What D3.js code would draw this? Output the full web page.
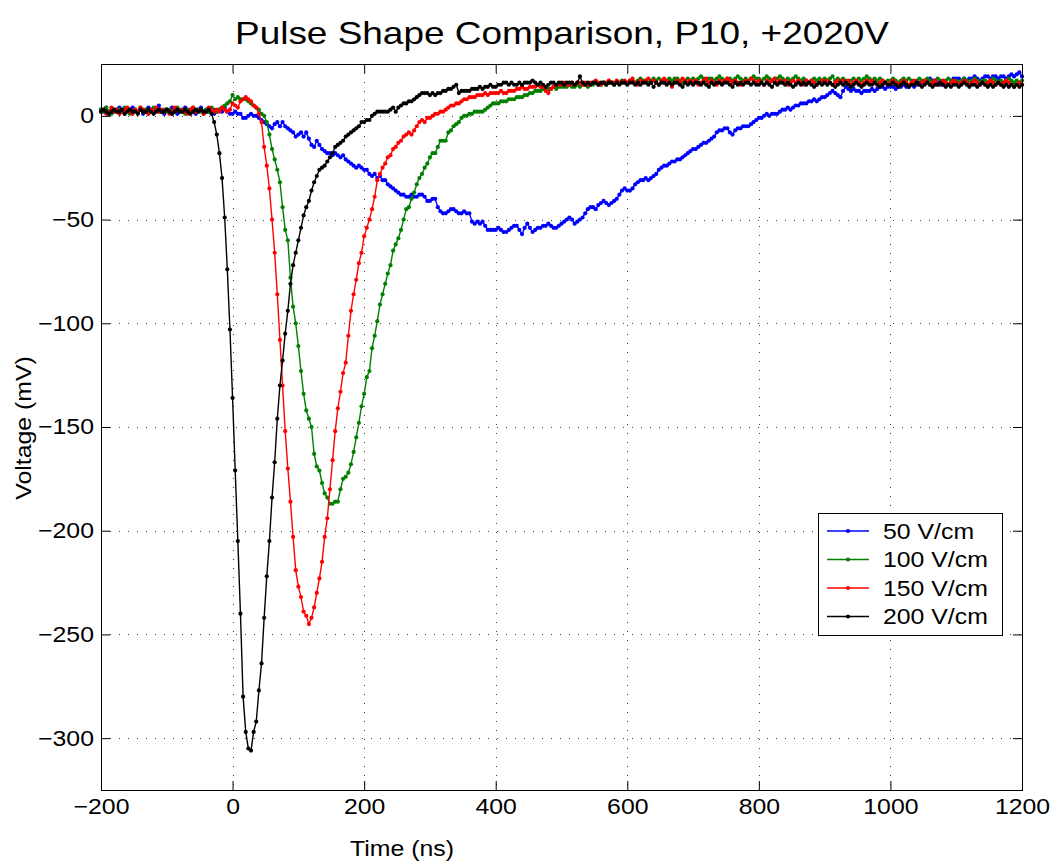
<!DOCTYPE html>
<html><head><meta charset="utf-8">
<script src="https://cdn.jsdelivr.net/npm/d3@7"></script>
<style>
body{margin:0;background:#fff}
text{font-family:"Liberation Sans",Arial,Helvetica,sans-serif;fill:#000}
</style>
</head><body>
<svg id="chart" width="1052" height="861"></svg>
<script>
// ---- data (mV), sampled every 4 ns starting at -200 ns ----
const sampleStart = -200;
const sampleStep = 4;

const v50 = [
 3,2,4,1,3, 2,3,4,2,1, 3,2,4,3,2, 3,1,2,4,3, 2,3,5,2,1,
 3,2,4,3,1, 2,3,4,2,3, 2,1,3,4,2, 3,2,3,1,2, 3,2,4,2,1,
 1,2,1,1,-1, -1,0,1,0,0, -1,-2,-3,-4,-5, -6,-4,-3,-5,-3, -5,-6,-7,-8,-10,
 -9,-8,-10,-8,-11, -14,-15,-12,-14,-16, -17,-18,-18,-19,-18, -19,-20,-19,-21,-22, -23,-24,-25,-24,-25,
 -26,-26,-28,-29,-28, -30,-29,-31,-31,-33, -34,-35,-36,-37,-38, -38,-39,-39,-38,-39, -39,-38,-38,-39,-41,
 -41,-40,-40,-44,-46, -47,-47,-46,-45,-45, -46,-47,-47,-46,-47, -47,-51,-52,-51,-52, -51,-53,-55,-55,-55,
 -55,-54,-55,-56,-56, -55,-54,-53,-53,-55, -57,-54,-52,-54,-56, -55,-54,-54,-53,-53, -52,-53,-54,-54,-53,
 -52,-51,-50,-49,-50, -52,-51,-50,-49,-47, -45,-44,-44,-45,-43, -42,-41,-42,-43,-42, -41,-40,-38,-36,-35,
 -36,-36,-35,-33,-32, -31,-31,-30,-31,-30, -29,-28,-26,-25,-24, -24,-23,-22,-22,-21, -21,-20,-19,-18,-17,
 -16,-16,-15,-14,-13, -13,-12,-11,-10,-8, -7,-7,-6,-6,-8, -9,-7,-6,-6,-5, -5,-5,-4,-3,-2,
 -1,-1,0,1,0, 1,1,1,2,3, 3,4,3,4,5, 5,6,6,6,7, 7,8,7,8,9,
 9,10,11,12,11, 10,9,12,14,13, 12,13,12,12,11, 12,12,12,13,12, 13,14,14,13,14,
 14,14,13,14,14, 15,14,14,15,14, 15,16,15,16,17, 18,17,17,16,15, 15,16,15,17,18,
 18,18,17,18,17, 18,18,19,18,17, 18,19,19,18,19, 19,18,19,19,18, 19,20,19,20,21,
 19
];

const v100 = [
 3,2,4,2,1, 3,2,3,2,4, 3,1,2,3,2, 4,2,3,1,2, 4,3,2,2,3,
 2,3,1,2,4, 3,2,1,3,2, 4,2,3,2,1, 3,2,4,3,2, 3,4,5,6,7,
 10,8,9,8,8, 8,7,6,5,4, 3,1,0,-3,-9, -16,-21,-26,-32,-44, -55,-60,-78,-92,-100,
 -111,-123,-134,-142,-146, -150,-163,-169,-171,-177, -182,-184,-187,-187,-186, -186,-180,-175,-174,-172, -168,-162,-155,-148,-140,
 -134,-126,-123,-112,-106, -99,-91,-86,-81,-76, -72,-65,-62,-59,-55, -50,-45,-44,-40,-37, -33,-30,-28,-25,-23,
 -20,-18,-18,-15,-12, -12,-12,-8,-7,-5, -4,-3,-1,0,0, 1,1,2,2,2, 2,3,4,5,6,
 6,6,7,7,7, 8,8,8,9,9, 9,10,10,11,11, 12,12,12,13,13, 13,13,14,13,14,
 14,14,14,15,14, 14,15,14,15,15, 14,15,15,16,15, 15,16,15,16,16, 15,16,16,17,16,
 16,17,17,16,17, 18,17,17,16,17, 18,17,18,17,16, 17,18,17,18,18, 17,16,17,18,17,
 18,17,18,19,18, 17,18,18,17,18, 19,18,17,18,18, 17,18,19,18,17, 18,17,18,19,18,
 18,17,18,19,18, 17,18,18,19,18, 17,18,17,18,19, 18,17,18,17,16, 17,18,17,18,17,
 18,17,18,19,17, 18,17,18,17,16, 17,18,17,18,17, 18,19,18,17,18, 17,18,17,16,17,
 17,18,17,16,17, 18,17,18,17,16, 17,18,17,17,18, 17,16,17,18,17, 16,17,18,17,16,
 17,16,17,18,17, 16,17,18,17,16, 17,17,16,17,18, 17,16,17,16,17, 18,17,16,17,16,
 17
];

const v150 = [
 2,3,1,2,4, 2,3,1,2,3, 4,2,1,3,2, 4,3,2,1,3, 2,4,2,3,2,
 3,1,2,4,3, 2,3,2,1,3, 4,2,2,3,1, 2,4,3,2,3, 2,4,3,2,3,
 6,5,4,7,8, 9,8,7,5,4, 1,-3,-15,-24,-35, -50,-66,-86,-108,-130, -152,-170,-186,-203,-219,
 -227,-232,-239,-241,-245, -242,-237,-230,-223,-215, -203,-194,-180,-166,-152, -141,-133,-124,-119,-106, -94,-86,-79,-71,-66,
 -58,-54,-50,-45,-39, -31,-28,-25,-23,-20, -19,-16,-15,-13,-12, -10,-9,-8,-9,-7, -5,-3,-2,-3,-1,
 -1,0,1,1,2, 2,3,4,5,5, 6,6,7,8,8, 9,9,9,10,10, 10,11,10,11,11,
 11,11,12,11,11, 12,12,12,13,13, 14,13,13,14,14, 14,15,14,14,12, 11,13,14,15,15,
 15,16,15,15,16, 15,16,16,15,16, 15,16,16,17,16, 15,16,16,17,16, 16,17,16,16,17,
 16,17,18,16,15, 17,16,17,18,16, 17,16,15,17,18, 17,16,14,16,17, 16,18,17,16,17,
 16,17,15,16,17, 18,16,17,16,15, 17,16,17,18,17, 16,17,16,15,16, 17,16,18,17,16,
 17,16,15,17,16, 17,18,16,17,16, 17,15,16,17,16, 17,16,15,17,16, 17,16,15,16,17,
 16,17,16,15,16, 17,16,17,16,17, 15,16,17,16,15, 16,17,16,17,16, 15,16,17,16,15,
 16,17,16,15,16, 17,16,15,16,17, 16,15,16,17,16, 15,16,17,15,16, 17,16,15,16,17,
 16,15,16,17,16, 15,16,17,16,15, 16,15,16,17,16, 15,16,15,16,17, 16,15,14,15,16,
 15
];

const v200 = [
 2,3,2,1,2, 3,2,2,3,1, 2,3,2,2,1, 3,2,2,3,2, 1,2,3,2,2,
 3,2,1,2,3, 2,2,3,2,1, 2,3,2,3,2, 2,3,1,-3,-9, -18,-30,-49,-74,-103,
 -136,-171,-205,-240,-280, -297,-305,-306,-297,-292, -277,-264,-242,-222,-205, -184,-167,-146,-130,-118, -105,-94,-81,-72,-66,
 -60,-54,-48,-44,-41, -36,-32,-29,-26,-25, -24,-22,-20,-18,-15, -14,-13,-12,-10,-9, -8,-7,-6,-5,-3,
 -3,-2,-2,0,1, 2,2,2,2,2, 3,4,2,4,5, 6,6,7,7,8, 9,10,11,11,11,
 10,11,10,11,11, 12,12,13,13,14, 15,11,12,12,12, 12,13,13,13,14, 13,14,14,15,14,
 14,15,15,16,16, 15,16,15,15,16, 15,16,16,16,17, 16,15,16,15,14, 15,16,16,15,16,
 16,15,16,16,16, 15,16,19,16,15, 16,15,16,16,15, 16,16,15,16,16, 15,16,15,16,16,
 15,16,16,15,16, 15,16,16,15,16, 14,16,15,16,16, 15,16,15,16,16, 15,14,16,15,16,
 15,16,16,15,16, 15,14,16,15,16, 16,15,16,16,15, 14,16,15,16,15, 16,16,15,16,15,
 15,16,15,16,15, 14,16,15,16,16, 15,16,15,14,15, 16,15,16,15,16, 15,14,15,16,15,
 16,15,16,15,14, 15,16,15,16,15, 14,15,16,15,14, 15,16,15,15,16, 15,14,15,16,15,
 15,16,15,14,15, 16,15,14,15,15, 16,15,14,15,16, 15,14,15,15,16, 15,14,15,14,15,
 15,14,15,16,15, 14,15,15,14,15, 16,15,14,15,14, 15,16,15,14,15, 14,15,14,15,14,
 15
];

const seriesNames = ["50 V/cm", "100 V/cm", "150 V/cm", "200 V/cm"];
const seriesColors = ["#0000ff", "#008000", "#ff0000", "#000000"];
const seriesValues = [v50, v100, v150, v200];

const xTicks = [-200, 0, 200, 400, 600, 800, 1000, 1200];
const yTicks = [-300, -250, -200, -150, -100, -50, 0];
const xDomain = [-200, 1200];
const yDomain = [-325, 25];
const titleText = "Pulse Shape Comparison, P10, +2020V";
const xLabel = "Time (ns)";
const yLabel = "Voltage (mV)";

// ---- drawing ----
const svg = d3.select("#chart");
const L = 101, R = 1022, T = 64, B = 790;
const x = d3.scaleLinear().domain(xDomain).range([L, R]);
const y = d3.scaleLinear().domain(yDomain).range([B, T]);
const fmt = d3.format("");
const S = 1.155;          // horizontal stretch of the reference's lettering
const fontSize = 21.5;

svg.append("rect").attr("width", 1052).attr("height", 861).attr("fill", "#fff");

// grid
const grid = svg.append("g").attr("stroke", "#000").attr("stroke-width", 1)
  .attr("stroke-dasharray", "1,8").attr("opacity", 0.75);
xTicks.slice(1, -1).forEach(t => {
  grid.append("line").attr("x1", Math.round(x(t)) + 0.5).attr("x2", Math.round(x(t)) + 0.5)
    .attr("y1", T).attr("y2", B);
});
yTicks.forEach(t => {
  grid.append("line").attr("y1", Math.round(y(t)) + 0.5).attr("y2", Math.round(y(t)) + 0.5)
    .attr("x1", L).attr("x2", R);
});

// data
const plot = svg.append("g");
seriesValues.forEach((vals, si) => {
  const pts = vals.map((v, i) => [sampleStart + i * sampleStep, v]);
  const line = d3.line().x(d => x(d[0])).y(d => y(d[1]));
  plot.append("path").datum(pts).attr("d", line).attr("fill", "none")
    .attr("stroke", seriesColors[si]).attr("stroke-width", 1.4);
  plot.append("g").selectAll("circle").data(pts).join("circle")
    .attr("cx", d => x(d[0])).attr("cy", d => y(d[1])).attr("r", 2.1)
    .attr("fill", seriesColors[si]);
});

// axes (ticks inward)
const tickLen = 9;
const axB = svg.append("g").attr("transform", `translate(0,${B})`)
  .call(d3.axisBottom(x).tickValues(xTicks).tickSizeInner(-tickLen).tickSizeOuter(0)
    .tickPadding(9).tickFormat(fmt));
const axT = svg.append("g").attr("transform", `translate(0,${T})`)
  .call(d3.axisTop(x).tickValues(xTicks).tickSizeInner(-tickLen).tickSizeOuter(0).tickFormat(""));
const axL = svg.append("g").attr("transform", `translate(${L},0)`)
  .call(d3.axisLeft(y).tickValues(yTicks).tickSizeInner(-tickLen).tickSizeOuter(0)
    .tickPadding(7).tickFormat(fmt));
const axR = svg.append("g").attr("transform", `translate(${R},0)`)
  .call(d3.axisRight(y).tickValues(yTicks).tickSizeInner(-tickLen).tickSizeOuter(0).tickFormat(""));
[axB, axT, axL, axR].forEach(a => {
  a.select(".domain").remove();
  a.selectAll("line").attr("stroke", "#000");
  a.selectAll("text").attr("font-size", fontSize)
    .attr("font-family", '"Liberation Sans", Arial, sans-serif')
    .each(function() {
      const t = d3.select(this);
      const xv = +t.attr("x") || 0;
      t.attr("x", xv / S).attr("transform", `scale(${S},1)`);
    });
});

// frame
svg.append("rect").attr("x", L + 0.5).attr("y", T + 0.5).attr("width", R - L).attr("height", B - T)
  .attr("fill", "none").attr("stroke", "#000").attr("stroke-width", 1);

// labels
svg.append("text").attr("transform", `translate(562,44) scale(${S},1)`).attr("text-anchor", "middle")
  .attr("font-size", 32).text(titleText);
svg.append("text").attr("transform", `translate(402,856) scale(${S},1)`).attr("text-anchor", "middle")
  .attr("font-size", fontSize).text(xLabel);
svg.append("text").attr("transform", `translate(31,428) rotate(-90) scale(${S},1)`).attr("text-anchor", "middle")
  .attr("font-size", fontSize).text(yLabel);

// legend
const lg = svg.append("g");
lg.append("rect").attr("x", 818.5).attr("y", 513.5).attr("width", 184).attr("height", 122)
  .attr("fill", "#fff").attr("stroke", "#000").attr("stroke-width", 1);
seriesNames.forEach((name, i) => {
  const yy = 531 + i * 28.5;
  lg.append("line").attr("x1", 827).attr("x2", 869).attr("y1", yy).attr("y2", yy)
    .attr("stroke", seriesColors[i]).attr("stroke-width", 1.4);
  lg.append("circle").attr("cx", 848).attr("cy", yy).attr("r", 2.1).attr("fill", seriesColors[i]);
  lg.append("text").attr("transform", `translate(883,${yy}) scale(${S},1)`).attr("dy", "0.36em")
    .attr("font-size", fontSize).text(name);
});
</script>
</body></html>
